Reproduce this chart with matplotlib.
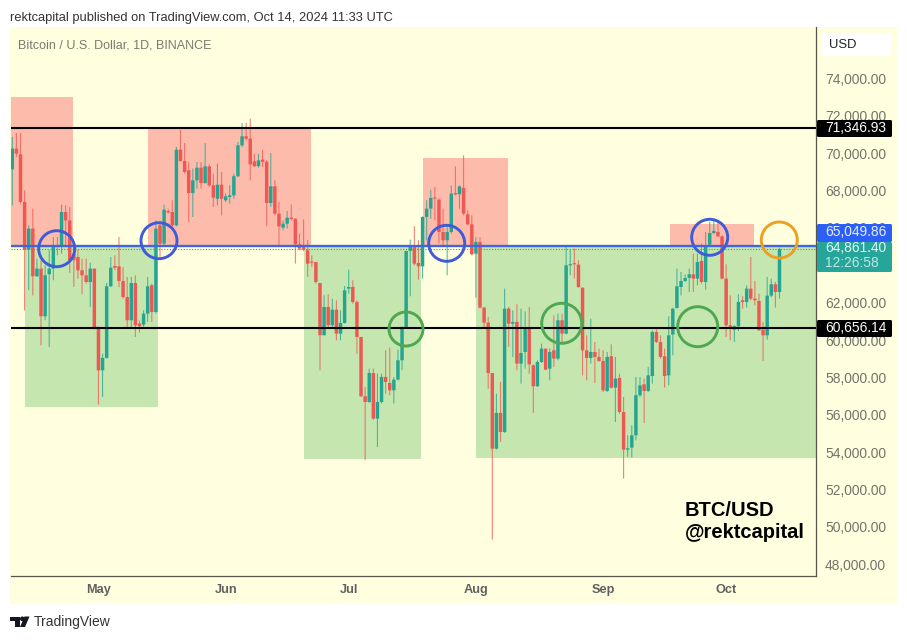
import matplotlib
matplotlib.use('Agg')
import matplotlib.pyplot as plt
from matplotlib.patches import Circle, Polygon, Rectangle, FancyBboxPatch

plt.rcParams['font.family'] = ['Liberation Sans', 'DejaVu Sans']

# daily candles, Apr 10 to Oct 14 2024
opens = [
    69130, 70240, 69935, 67385, 64835, 65960, 63410, 63820, 61270, 63520,
    63820, 65065, 64980, 66850, 66400, 64620, 64440, 63730, 63460, 63105,
    63820, 60610, 58380, 59040, 62875, 63960, 63940, 63160, 62300, 61055,
    63050, 60880, 60825, 61410, 62930, 61500, 66135, 65155, 66900, 66850,
    66135, 70185, 69580, 69080, 67865, 68545, 69220, 68400, 69290, 68275,
    67560, 68310, 67475, 67650, 67740, 68760, 70415, 70900, 70770, 69560,
    69300, 69650, 69540, 67330, 68225, 66760, 66010, 66225, 66545, 66490,
    65120, 64975, 64800, 64175, 64175, 63050, 60255, 61770, 60790, 61625,
    60340, 60910, 62750, 62840, 62035, 60165, 56990, 56685, 58235, 55795,
    56685, 58025, 57700, 57310, 57880, 58915, 60700, 64765, 65065, 64120,
    63945, 66580, 67030, 67615, 67510, 65780, 65335, 65780, 67865, 67795,
    68135, 66725, 66190, 64620, 65245, 61735, 60930, 58235, 54190, 56100,
    55080, 61680, 60875, 60965, 58735, 59360, 60610, 58650, 57525, 58825,
    59540, 58470, 59450, 59005, 61055, 60340, 63995, 64085, 64030, 62800,
    59450, 59040, 59360, 59095, 58880, 57275, 59130, 57450, 57970, 56150,
    54135, 54245, 54905, 57045, 57630, 57275, 58075, 60430, 59895, 59130,
    58110, 60290, 61715, 62835, 63160, 63320, 63515, 63285, 64230, 63105,
    65100, 65725, 65780, 65545, 63285, 60785, 60555, 60735, 62125, 62035,
    62750, 62215, 62090, 60555, 60250, 62375, 62980, 62570,
]
highs = [
    70860, 71076, 71076, 68010, 66135, 67030, 64350, 64260, 63997, 64800,
    65510, 65510, 67240, 67205, 67118, 64980, 64835, 64350, 64350, 64140,
    63820, 60735, 59270, 63050, 64440, 64530, 65510, 63910, 63370, 63370,
    63460, 61050, 61590, 63370, 63015, 66400, 66315, 67240, 67030, 67475,
    70325, 71255, 70540, 69525, 69170, 69525, 69525, 70540, 69400, 68900,
    69435, 68990, 67831, 68275, 68900, 70595, 71610, 71610, 71840, 69970,
    69970, 70185, 69614, 70005, 68545, 67385, 66400, 66905, 67260, 66490,
    65690, 66455, 65335, 64530, 64175, 63050, 62390, 62445, 62215, 62125,
    61590, 62890, 63765, 63195, 62125, 60165, 57490, 58470, 58470, 58200,
    58200, 59450, 59590, 58025, 59485, 60735, 64765, 65370, 66085, 65335,
    66620, 67475, 68045, 68185, 67565, 67030, 66135, 68275, 69290, 68275,
    69880, 66940, 66670, 65510, 65510, 61770, 61235, 58235, 57130, 57755,
    62750, 61770, 61590, 61910, 61680, 61535, 61770, 58700, 58915, 59805,
    59540, 59540, 61322, 61410, 61410, 65010, 64835, 64890, 64265, 62800,
    60250, 61145, 59895, 59540, 59450, 59360, 59770, 59095, 58200, 56955,
    54905, 55440, 58025, 58025, 57935, 58560, 60520, 60610, 60250, 59540,
    61270, 61720, 63820, 63640, 63515, 63820, 64620, 64620, 65155, 65780,
    66315, 66490, 66315, 65600, 64050, 62390, 60785, 62445, 62340, 62925,
    64440, 63160, 62480, 60965, 63370, 63280, 63105, 64940,
]
lows = [
    67200, 69790, 67300, 61590, 62660, 62390, 63370, 59720, 61055, 59630,
    63195, 64530, 64620, 64980, 63590, 62840, 63285, 62445, 63015, 61770,
    60555, 56545, 56955, 59005, 62840, 63730, 62840, 62215, 60700, 60610,
    60165, 60400, 60700, 60965, 60965, 61410, 64445, 65065, 66760, 66050,
    66080, 69525, 68900, 66315, 66580, 68100, 68100, 68365, 68190, 67120,
    67205, 66670, 67385, 67296, 67560, 68720, 70325, 70684, 68545, 69260,
    69220, 69257, 66085, 67118, 66670, 64980, 65870, 65960, 66405, 64085,
    64800, 64765, 63375, 63910, 63015, 58380, 60255, 60700, 60700, 59985,
    59985, 60875, 62480, 61945, 59270, 56955, 53565, 56635, 55740, 54280,
    56600, 57130, 57045, 56600, 57845, 58380, 60700, 62340, 64000, 63230,
    63285, 65335, 66490, 66405, 65155, 65065, 63460, 65690, 67740, 67030,
    66670, 66135, 64530, 62265, 61680, 60700, 57400, 49325, 54135, 54545,
    55030, 59630, 59095, 58380, 57665, 58470, 58200, 56100, 57490, 58770,
    58380, 57845, 58558, 58915, 59805, 60305, 63460, 63285, 62800, 58110,
    57845, 58735, 57700, 58825, 57220, 57220, 57400, 55615, 56060, 52585,
    53745, 53710, 54635, 56955, 55560, 57220, 57665, 59840, 59005, 57450,
    57575, 59180, 61680, 62390, 63105, 62570, 62570, 62925, 63015, 62695,
    65030, 65655, 65510, 63245, 60165, 59985, 59895, 60485, 61680, 61730,
    62125, 61855, 60485, 58880, 60020, 62300, 61730, 62215,
]
closes = [
    70240, 69970, 67385, 64835, 65960, 63410, 63820, 61270, 63460, 63820,
    65065, 64980, 66850, 66400, 64265, 64265, 63730, 63460, 63105, 63820,
    60610, 58380, 59040, 62875, 63870, 63870, 63160, 62300, 61055, 63050,
    60790, 60735, 61410, 62875, 61500, 65960, 65155, 66975, 66830, 66135,
    70185, 69580, 68990, 67865, 68545, 69220, 68400, 69290, 68275, 67615,
    68310, 67560, 67690, 67740, 68760, 70415, 70900, 70770, 69400, 69300,
    69610, 69540, 67330, 68225, 66760, 66085, 66225, 66545, 66475, 65120,
    64890, 64835, 64085, 64140, 63105, 60255, 61770, 60790, 61625, 60340,
    60910, 62660, 62840, 62035, 60165, 56990, 56685, 58235, 55795, 56685,
    58025, 57755, 57310, 57880, 58915, 60700, 64765, 65065, 64085, 63945,
    66580, 67030, 67600, 67565, 65780, 65335, 65780, 67830, 67795, 68220,
    66760, 66190, 64585, 65245, 61735, 60930, 58235, 54190, 56100, 55080,
    61680, 60875, 60965, 58735, 59305, 60610, 58700, 57525, 58825, 59540,
    58415, 59360, 59005, 61055, 60340, 63995, 64050, 64050, 62835, 59450,
    59040, 59360, 59095, 58880, 57310, 59095, 57450, 57935, 56150, 54135,
    54205, 54905, 57045, 57575, 57275, 58110, 60430, 59895, 59095, 58075,
    60250, 61680, 62875, 63160, 63320, 63515, 63285, 64175, 63105, 65065,
    65725, 65835, 65545, 63285, 60785, 60610, 60750, 62035, 62035, 62750,
    62215, 62125, 60520, 60250, 62375, 62980, 62570, 64861,
]

# price levels with their labels
support = 60656.14
resistance = 71346.93
blue_level = 65049.86
last_price = 64861.40

price_ticks = [p for p in range(48000, 76000, 2000) if p != 64000]  # 64,000 sits behind the price tag
month_names = ['May', 'Jun', 'Jul', 'Aug', 'Sep', 'Oct']
month_days = [21, 52, 82, 113, 144, 174]

# shaded zones: first day, last day, low price, high price
red_zones = [(-1, 14.7, 65050, 72985), (33.1, 72.7, 65050, 71270),
             (100, 120.8, 65050, 69720), (160.2, 180.9, 65050, 66190)]
green_zones = [(3, 35.6, 56430, 65100), (71.1, 99.7, 53620, 64960),
               (113.1, 196, 53670, 64960)]

up_col = '#24a592'
down_col = '#ee5753'
bg_col = '#ffffdf'

fig = plt.figure(figsize=(9.07, 6.4), dpi=100, facecolor='white')

# back layer, in image pixels
bg = fig.add_axes([0, 0, 1, 1], zorder=0)
bg.set_xlim(0, 907)
bg.set_ylim(640, 0)
bg.axis('off')
bg.add_patch(Rectangle((10, 27), 887, 577, fc=bg_col, ec='none'))

# chart
ax = fig.add_axes([10.5 / 907, 64 / 640, 805.5 / 907, 549 / 640], zorder=1)
ax.patch.set_alpha(0)
ax.set_xlim(-0.44, 195.9)
ax.set_ylim(47375, 76746)

for x0, x1, y0, y1 in red_zones:
    ax.add_patch(Rectangle((x0, y0), x1 - x0, y1 - y0, fc='#fdbcab', ec='none', zorder=1))
for x0, x1, y0, y1 in green_zones:
    ax.add_patch(Rectangle((x0, y0), x1 - x0, y1 - y0, fc='#c6e6af', ec='none', zorder=1))

days = list(range(len(opens)))
for i in days:
    col = up_col if closes[i] >= opens[i] else down_col
    wick = ax.vlines(i, lows[i], highs[i], color=col, lw=0.8, alpha=0.75, zorder=3)
    wick.set_snap(False)
    bars = ax.bar(i, max(abs(closes[i] - opens[i]), 60), bottom=min(opens[i], closes[i]),
                  width=0.84, color=col, lw=0, zorder=4)
    bars[0].set_snap(False)

ax.axhline(last_price, color=up_col, lw=0.8, ls=(0, (1, 1.5)), zorder=2)
ax.axhline(blue_level, color='#3f66dc', lw=1.7, zorder=5)
ax.axhline(resistance, color='black', lw=1.5, zorder=5)
ax.axhline(support, color='black', lw=1.5, zorder=5)

ax.yaxis.tick_right()
ax.set_yticks(price_ticks)
ax.set_yticklabels(['{:,.2f}'.format(p) for p in price_ticks])
ax.set_xticks(month_days)
ax.set_xticklabels(month_names, fontweight='bold')
ax.tick_params(axis='y', length=0, pad=6.5, labelsize=9.9, labelcolor='#73736b')
ax.tick_params(axis='x', length=0, pad=6, labelsize=9.2, labelcolor='#606060')
for name in ['top', 'left']:
    ax.spines[name].set_visible(False)
for name in ['right', 'bottom']:
    ax.spines[name].set_color('#55554a')
    ax.spines[name].set_linewidth(0.9)

# top layer, in image pixels
ov = fig.add_axes([0, 0, 1, 1], zorder=2)
ov.set_xlim(0, 907)
ov.set_ylim(640, 0)
ov.axis('off')

for cx, cy, r in [(56.7, 248.7, 18), (159, 240.7, 18), (446.7, 243.3, 18), (709.7, 237.3, 18)]:
    ov.add_patch(Circle((cx, cy), r, fc='none', ec='#3f5bd8', lw=2.1))
for cx, cy, r in [(406, 329, 17), (561.7, 323.3, 20), (697.7, 326.7, 20)]:
    ov.add_patch(Circle((cx, cy), r, fc='none', ec='#4ea752', lw=2.1))
ov.add_patch(Circle((779.3, 240), 18, fc='none', ec='#e9a023', lw=2.1))

ov.add_patch(FancyBboxPatch((822, 33), 69, 23, boxstyle='round,pad=0,rounding_size=3', fc='white', ec='none'))
ov.text(829, 44.5, 'USD', fontsize=9.4, color='#222222', va='center')

ov.add_patch(FancyBboxPatch((817, 120), 75, 17, boxstyle='round,pad=0,rounding_size=1.5', fc='black', ec='none'))
ov.text(825, 128.5, '{:,.2f}'.format(resistance), fontsize=9.9, color='white', va='center')
ov.add_patch(FancyBboxPatch((817, 320), 75, 17, boxstyle='round,pad=0,rounding_size=1.5', fc='black', ec='none'))
ov.text(825, 328.5, '{:,.2f}'.format(support), fontsize=9.9, color='white', va='center')
ov.add_patch(FancyBboxPatch((817, 224), 75, 18, boxstyle='round,pad=0,rounding_size=1.5', fc='#2c5ff6', ec='none'))
ov.text(825, 232.5, '{:,.2f}'.format(blue_level), fontsize=9.9, color='#e8eeff', va='center')
ov.add_patch(FancyBboxPatch((817, 242), 75, 30, boxstyle='round,pad=0,rounding_size=1.5', fc='#26a69a', ec='none'))
ov.text(825, 248.5, '{:,.2f}'.format(last_price), fontsize=9.9, color='#e6f6f3', va='center')
ov.text(825, 263, '12:26:58', fontsize=9.9, color='#bfe8e2', va='center')

ov.text(10, 17.5, 'rektcapital published on TradingView.com, Oct 14, 2024 11:33 UTC',
        fontsize=9.25, color='#333333', va='center')
ov.text(18, 45, 'Bitcoin / U.S. Dollar, 1D, BINANCE', fontsize=9.0, color='#7a7a70', va='center')
ov.text(685, 511, 'BTC/USD', fontsize=14.5, fontweight='bold', color='black', va='center')
ov.text(685, 532, '@rektcapital', fontsize=14.5, fontweight='bold', color='black', va='center')

# TradingView logo and name
ov.add_patch(Polygon([(10, 616.5), (19.5, 616.5), (19.5, 627), (14.5, 627), (14.5, 621), (10, 621)], fc='#131722', ec='none'))
ov.add_patch(Circle((22.3, 618.8), 2.3, fc='#131722', ec='none'))
ov.add_patch(Polygon([(24.5, 616.5), (29.5, 616.5), (25, 627), (20, 627)], fc='#131722', ec='none'))
ov.text(34, 622, 'TradingView', fontsize=10, color='#333333', va='center')

fig.savefig('out.png', dpi=100)
